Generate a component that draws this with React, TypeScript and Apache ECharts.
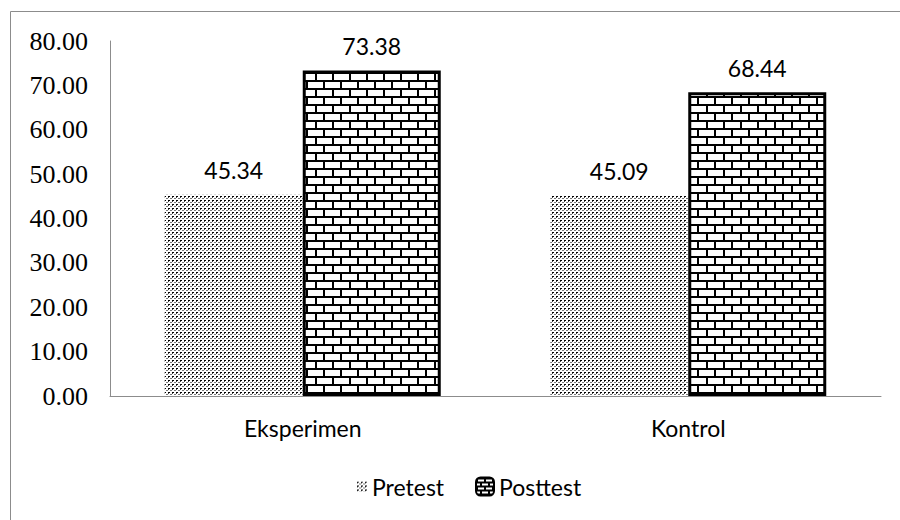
import { useEffect, useRef } from "react";
import * as echarts from "echarts";

const categories = ["Eksperimen", "Kontrol"];
const seriesNames = ["Pretest", "Posttest"];
const pretestValues = [45.34, 45.09];
const posttestValues = [73.38, 68.44];
const yMin = 0;
const yMax = 80;
const yStep = 10;

function makeDotCanvas() {
  const c = document.createElement("canvas");
  c.width = 4;
  c.height = 4;
  const g = c.getContext("2d")!;
  g.fillStyle = "#ffffff";
  g.fillRect(0, 0, 4, 4);
  g.fillStyle = "#000000";
  g.fillRect(0, 0, 2, 1);
  g.fillStyle = "#444444";
  g.fillRect(0, 1, 1, 1);
  g.fillStyle = "#777777";
  g.fillRect(2, 2, 2, 1);
  return c;
}

function makeBrickCanvas(w: number, h: number, lw: number) {
  const c = document.createElement("canvas");
  c.width = w;
  c.height = h;
  const g = c.getContext("2d")!;
  g.fillStyle = "#ffffff";
  g.fillRect(0, 0, w, h);
  g.fillStyle = "#000000";
  const half = h / 2;
  g.fillRect(0, 0, w, lw);
  g.fillRect(0, half, w, lw);
  g.fillRect(0, 0, lw, half);
  g.fillRect(Math.round(w / 2), half, lw, half);
  return c;
}

export default function App() {
  const ref = useRef<HTMLDivElement>(null);

  useEffect(() => {
    if (!ref.current) return;
    const chart = echarts.init(ref.current, null, { renderer: "svg" });
    const dot = makeDotCanvas();
    const brick = makeBrickCanvas(17, 16, 2);
    const brickSmall = makeBrickCanvas(8, 8, 2);
    const dotPattern: any = { image: dot, repeat: "repeat", imageWidth: 4, imageHeight: 4 };
    const brickPattern: any = { image: brick, repeat: "repeat", imageWidth: 17, imageHeight: 16 };
    const brickSmallPattern: any = { image: brickSmall, repeat: "repeat", imageWidth: 8, imageHeight: 8 };

    const sansFont = "Lato, 'Open Sans', sans-serif";
    const labelStyle = {
      show: true,
      position: "top",
      distance: 13,
      color: "#000",
      fontFamily: sansFont,
      fontSize: 23,
      formatter: (p: any) => Number(p.value).toFixed(2),
    };

    chart.setOption({
      animation: false,
      backgroundColor: "#ffffff",
      graphic: [
        {
          type: "rect",
          shape: { x: 10.5, y: 11.5, width: 1000, height: 1000 },
          style: { fill: "none", stroke: "#8c8c8c", lineWidth: 1 },
          silent: true,
        },
      ],
      grid: { left: 110, right: 19, top: 41, bottom: 124, containLabel: false },
      legend: [
        {
          data: [{ name: seriesNames[0], itemStyle: { color: dotPattern, borderWidth: 0 } }],
          left: 352,
          top: 470,
          itemWidth: 10,
          itemHeight: 10,
          itemGap: 0,
          icon: "rect",
          textStyle: { fontFamily: sansFont, fontSize: 23, color: "#000" },
          selectedMode: false,
        },
        {
          data: [
            {
              name: seriesNames[1],
              itemStyle: { color: brickSmallPattern, borderColor: "#000", borderWidth: 2 },
            },
          ],
          left: 470,
          top: 470,
          itemWidth: 18,
          itemHeight: 18,
          icon: "roundRect",
          textStyle: { fontFamily: sansFont, fontSize: 23, color: "#000" },
          selectedMode: false,
        },
      ],
      xAxis: {
        type: "category",
        data: categories,
        axisLine: { show: true, lineStyle: { color: "#8c8c8c", width: 1 } },
        axisTick: { show: false },
        axisLabel: {
          color: "#000",
          fontFamily: sansFont,
          fontSize: 23,
          margin: 20,
        },
      },
      yAxis: {
        type: "value",
        min: yMin,
        max: yMax,
        interval: yStep,
        axisLine: { show: true, lineStyle: { color: "#8c8c8c", width: 1 } },
        axisTick: { show: false },
        splitLine: { show: false },
        axisLabel: {
          color: "#000",
          fontFamily: "'Liberation Serif', 'Times New Roman', serif",
          fontSize: 26,
          margin: 22,
          formatter: (v: number) => v.toFixed(2),
        },
      },
      series: [
        {
          name: seriesNames[0],
          type: "bar",
          data: pretestValues,
          barWidth: 138,
          barGap: "0%",
          itemStyle: { color: dotPattern },
          label: labelStyle,
        },
        {
          name: seriesNames[1],
          type: "bar",
          data: posttestValues,
          barWidth: 138,
          barGap: "0%",
          itemStyle: { color: brickPattern, borderColor: "#000", borderWidth: 3 },
          label: labelStyle,
        },
      ],
    });

    return () => chart.dispose();
  }, []);

  return (
    <div
      ref={ref}
      style={{ position: "fixed", left: 0, top: 0, width: 900, height: 520 }}
    />
  );
}
